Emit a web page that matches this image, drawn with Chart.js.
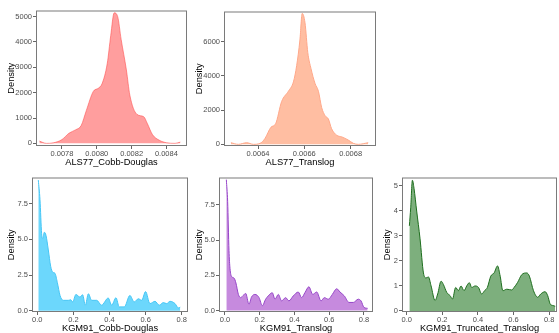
<!DOCTYPE html>
<html>
<head>
<meta charset="utf-8">
<script src="https://cdn.jsdelivr.net/npm/chart.js@4"></script>
<style>
html,body{margin:0;padding:0;width:559px;height:333px;overflow:hidden;background:#fff;}
canvas{position:absolute;}
</style>
</head>
<body>
<canvas id="c1"></canvas>
<canvas id="c2"></canvas>
<canvas id="c3"></canvas>
<canvas id="c4"></canvas>
<canvas id="c5"></canvas>
<script>
// ---- data ----
const als77CdX = [0.00767,0.00771,0.00775,0.0078,0.00784,0.00788,0.00791,0.00794,0.00798,0.00801,0.00803,0.00806,0.00808,0.0081,0.00812,0.00814,0.00817,0.00819,0.00823,0.00827,0.00829,0.00832,0.00836,0.0084,0.00845,0.00848];
const als77CdY = [90,0,20,150,400,540,700,1300,2050,2180,2350,3150,4250,5150,5000,4100,2900,1900,1150,1050,790,345,120,25,0,50];

const als77TlX = [0.006283,0.006315,0.006351,0.00638,0.006409,0.00643,0.006456,0.006476,0.006502,0.006531,0.006553,0.006567,0.006581,0.006591,0.006603,0.006615,0.006629,0.006646,0.006661,0.006675,0.00669,0.006704,0.006718,0.00674,0.006762,0.00679,0.006812,0.006833,0.006876];
const als77TlY = [95,0,95,0,57,340,1000,1200,2500,3100,3650,4600,6100,7650,7100,5370,4420,3570,3100,2150,1670,1480,910,530,435,250,57,0,95];

const kgmCdX = [0.0055,0.0148,0.024,0.0295,0.039,0.048,0.061,0.074,0.085,0.098,0.111,0.126,0.144,0.172,0.185,0.196,0.214,0.236,0.251,0.266,0.283,0.301,0.329,0.356,0.393,0.412,0.436,0.454,0.482,0.513,0.537,0.56,0.578,0.6,0.624,0.652,0.676,0.698,0.717,0.735,0.763,0.781,0.792];
const kgmCdY = [9.16,7.8,5.4,5.06,5.5,5.29,4.26,3.12,2.71,2.62,1.98,1.07,0.73,0.73,0.77,0.62,1.14,0.96,1.12,0.39,1.19,0.73,0.73,0.39,0.89,0.39,0.91,0.27,0.27,1.07,0.62,0.84,0.73,1.34,0.5,0.66,0.39,0.57,0.5,0.66,0.5,0.2,0.25];

const kgmTlX = [0.0077,0.0153,0.023,0.0288,0.038,0.052,0.063,0.077,0.09,0.105,0.119,0.138,0.153,0.173,0.196,0.215,0.234,0.249,0.272,0.288,0.307,0.326,0.349,0.368,0.393,0.422,0.441,0.46,0.483,0.505,0.528,0.553,0.572,0.595,0.618,0.643,0.662,0.687,0.714,0.739,0.767,0.783,0.8,0.821];
const kgmTlY = [9.3,7.73,4.27,3.0,2.42,2.31,1.96,1.15,0.92,1.08,1.22,0.46,0.97,1.15,0.92,0.35,0.81,1.04,1.27,0.81,1.15,0.69,0.92,0.69,1.04,1.32,0.92,1.27,1.69,1.15,1.32,0.69,0.92,0.81,1.15,1.55,1.32,1.04,0.58,0.58,0.81,0.69,0.23,0.16];

const kgmTtX = [0.015,0.0225,0.032,0.041,0.056,0.075,0.094,0.109,0.122,0.137,0.159,0.174,0.193,0.206,0.225,0.244,0.257,0.275,0.29,0.305,0.322,0.337,0.352,0.365,0.384,0.403,0.421,0.437,0.453,0.472,0.491,0.51,0.525,0.54,0.562,0.59,0.603,0.622,0.646,0.674,0.689,0.712,0.736,0.753,0.777,0.792,0.805,0.82,0.834];
const kgmTtY = [3.4,4.12,5.22,4.9,3.99,2.88,1.52,1.32,1.36,1.0,0.42,0.68,1.19,1.06,0.74,0.61,0.48,0.94,0.81,1.0,0.81,1.0,1.13,0.94,1.0,0.94,0.68,0.81,0.94,1.39,1.52,1.8,1.39,0.81,0.87,0.84,0.94,1.13,1.45,1.52,1.39,0.81,0.55,0.68,0.77,0.61,0.29,0.22,0.19];

// tick values and labels
const als77CdXTicks = [0.0078,0.0080,0.0082,0.0084];
const als77CdXLabels = ['0.0078','0.0080','0.0082','0.0084'];
const als77CdYTicks = [0,1000,2000,3000,4000,5000];
const als77CdYLabels = ['0','1000','2000','3000','4000','5000'];
const als77TlXTicks = [0.0064,0.0066,0.0068];
const als77TlXLabels = ['0.0064','0.0066','0.0068'];
const als77TlYTicks = [0,2000,4000,6000];
const als77TlYLabels = ['0','2000','4000','6000'];
const kgmXTicks = [0,0.2,0.4,0.6,0.8];
const kgmXLabels = ['0.0','0.2','0.4','0.6','0.8'];
const kgmYTicks = [0,2.5,5,7.5];
const kgmYLabels = ['0.0','2.5','5.0','7.5'];
const kgmTtYTicks = [0,1,2,3,4,5];
const kgmTtYLabels = ['0','1','2','3','4','5'];

const FONT = '"Liberation Sans", Arial, sans-serif';

const framePlugin = {
  id: 'frame',
  afterDatasetsDraw(chart) {
    const a = chart.chartArea, c = chart.ctx;
    c.save();
    c.strokeStyle = '#7a7a7a';
    c.lineWidth = 1;
    c.strokeRect(a.left + 0.5, a.top + 0.5, a.right - a.left - 1, a.bottom - a.top - 1);
    c.restore();
  }
};

function panel(id, p) {
  const cv = document.getElementById(id);
  const cl = p.titleX - 6, ct = p.box.t - 2;
  const w = p.box.r + 2 - cl, h = p.box.b + 22 - ct;
  cv.width = w; cv.height = h;
  cv.style.left = cl + 'px'; cv.style.top = ct + 'px';
  cv.style.width = w + 'px'; cv.style.height = h + 'px';
  const yw = p.box.l - cl;
  new Chart(cv.getContext('2d'), {
    type: 'line',
    data: { datasets: [{
      data: p.xs.map((x, i) => ({ x: x, y: p.ys[i] })),
      fill: 'origin',
      backgroundColor: p.fill,
      borderColor: p.line,
      borderWidth: 1,
      pointRadius: 0,
      cubicInterpolationMode: 'monotone'
    }]},
    options: {
      responsive: false, animation: false, events: [],
      layout: { padding: { top: 2, right: 2, left: 0, bottom: 0 } },
      plugins: { legend: { display: false }, tooltip: { enabled: false } },
      scales: {
        x: {
          type: 'linear', min: p.xmin, max: p.xmax, bounds: 'data',
          afterBuildTicks: s => { s.ticks = p.xt.map(v => ({ value: v })); },
          afterFit: s => { s.height = 22; },
          ticks: { callback: (v, i) => p.xl[i], autoSkip: false, maxRotation: 0, padding: 0,
                   font: { family: FONT, size: 7.5 }, color: '#4d4d4d' },
          grid: { drawOnChartArea: false, tickLength: 3, tickColor: '#666', color: '#666' },
          border: { display: false },
          title: { display: true, text: p.xtitle, color: '#000', padding: 0,
                   font: { family: FONT, size: 9.3 } }
        },
        y: {
          type: 'linear', min: p.ymin, max: p.ymax, bounds: 'data',
          afterBuildTicks: s => { s.ticks = p.yt.map(v => ({ value: v })); },
          afterFit: s => { s.width = yw; },
          ticks: { callback: (v, i) => p.yl[i], autoSkip: false, padding: 1,
                   font: { family: FONT, size: 7.5 }, color: '#4d4d4d' },
          grid: { drawOnChartArea: false, tickLength: 3, tickColor: '#666', color: '#666' },
          border: { display: false },
          title: { display: true, text: 'Density', color: '#000', padding: 0,
                   font: { family: FONT, size: 9.3 } }
        }
      }
    },
    plugins: [framePlugin]
  });
}

panel('c1', { box: { l: 36, t: 7, r: 187, b: 146 }, titleX: 12,
  xs: als77CdX, ys: als77CdY, xmin: 0.0076506, xmax: 0.0085184, ymin: -104, ymax: 5242,
  xt: als77CdXTicks, xl: als77CdXLabels, yt: als77CdYTicks, yl: als77CdYLabels,
  xtitle: 'ALS77_Cobb-Douglas', fill: 'rgba(255,0,0,0.38)', line: 'rgba(255,70,70,0.55)' });

panel('c2', { box: { l: 224, t: 8, r: 376, b: 146 }, titleX: 200,
  xs: als77TlX, ys: als77TlY, xmin: 0.0062531, xmax: 0.0069097, ymin: -97, ymax: 7762,
  xt: als77TlXTicks, xl: als77TlXLabels, yt: als77TlYTicks, yl: als77TlYLabels,
  xtitle: 'ALS77_Translog', fill: 'rgb(255,190,162)', line: 'rgb(255,168,138)' });

panel('c3', { box: { l: 32, t: 174, r: 188, b: 312 }, titleX: 12,
  xs: kgmCdX, ys: kgmCdY, xmin: -0.0294, xmax: 0.835, ymin: -0.089, ymax: 9.34,
  xt: kgmXTicks, xl: kgmXLabels, yt: kgmYTicks, yl: kgmYLabels,
  xtitle: 'KGM91_Cobb-Douglas', fill: 'rgb(108,215,252)', line: 'rgb(70,198,245)' });

panel('c4', { box: { l: 219, t: 174, r: 373, b: 312 }, titleX: 200,
  xs: kgmTlX, ys: kgmTlY, xmin: -0.0345, xmax: 0.852, ymin: -0.1, ymax: 9.45,
  xt: kgmXTicks, xl: kgmXLabels, yt: kgmYTicks, yl: kgmYLabels,
  xtitle: 'KGM91_Translog', fill: 'rgb(198,138,222)', line: 'rgb(150,70,200)' });

panel('c5', { box: { l: 402, t: 174, r: 557, b: 312 }, titleX: 388,
  xs: kgmTtX, ys: kgmTtY, xmin: -0.0264, xmax: 0.844, ymin: -0.04, ymax: 5.33,
  xt: kgmXTicks, xl: kgmXLabels, yt: kgmTtYTicks, yl: kgmTtYLabels,
  xtitle: 'KGM91_Truncated_Translog', fill: 'rgb(125,175,125)', line: 'rgb(30,110,30)' });
</script>
</body>
</html>
